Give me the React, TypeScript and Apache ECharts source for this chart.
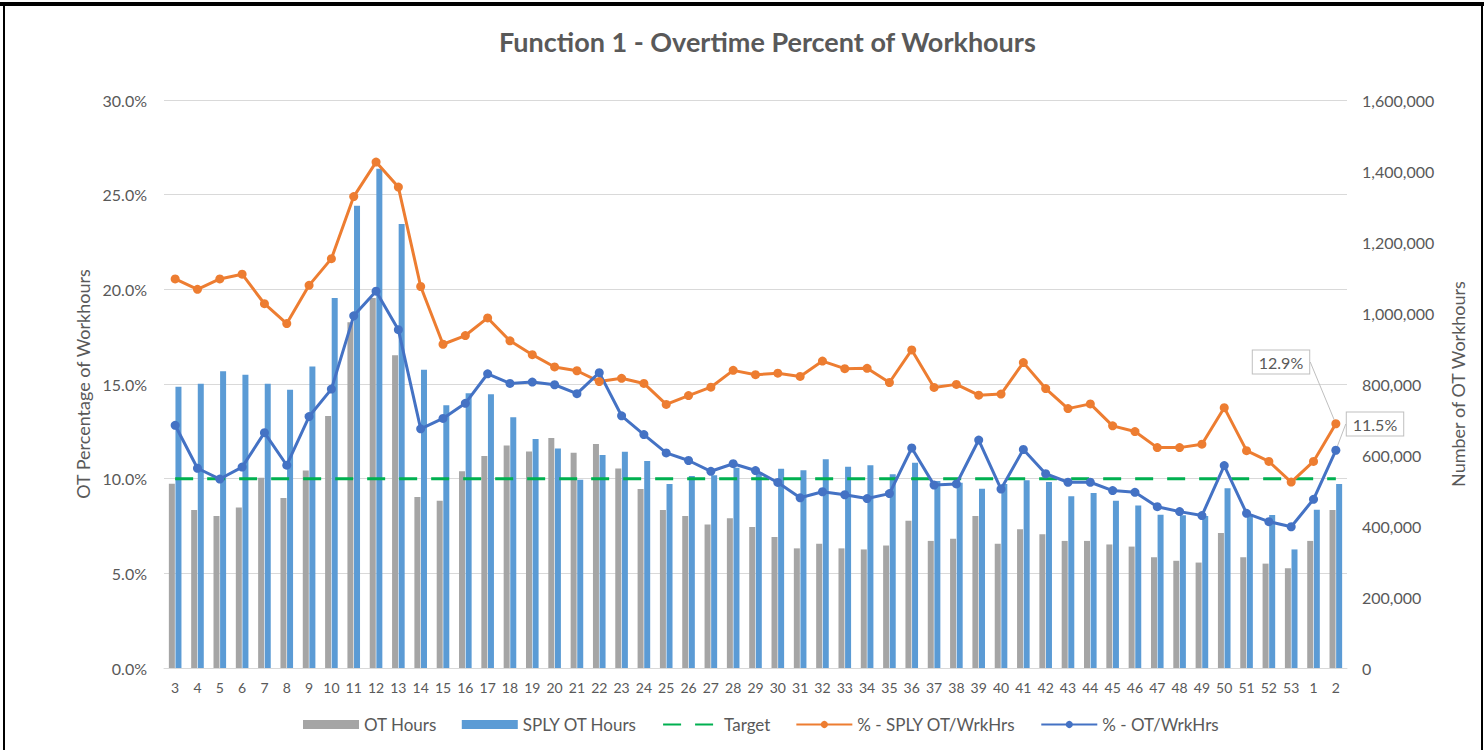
import React, { useEffect, useRef } from "react";
import * as echarts from "echarts";

const weeks = [
  "3", "4", "5", "6", "7", "8", "9", "10", "11", "12", "13", "14", "15", "16", "17", "18", "19", "20",
  "21", "22", "23", "24", "25", "26", "27", "28", "29", "30", "31", "32", "33", "34", "35", "36", "37",
  "38", "39", "40", "41", "42", "43", "44", "45", "46", "47", "48", "49", "50", "51", "52", "53", "1", "2",
];

const otHours = [
  519000, 445000, 428000, 452000, 536000, 479000, 556000, 710000, 974000, 1042000, 881000, 482000, 471000,
  554000, 597000, 627000, 610000, 648000, 606000, 631000, 562000, 504000, 445000, 428000, 404000, 422000,
  397000, 369000, 337000, 350000, 337000, 334000, 345000, 415000, 358000, 364000, 428000, 350000, 391000,
  377000, 358000, 358000, 348000, 342000, 312000, 302000, 297000, 380000, 312000, 294000, 281000, 358000,
  445000,
];

const splyOtHours = [
  792000, 801000, 836000, 826000, 801000, 784000, 849000, 1042000, 1302000, 1406000, 1251000, 840000, 740000,
  774000, 771000, 706000, 645000, 618000, 530000, 600000, 609000, 583000, 518000, 541000, 543000, 564000,
  548000, 561000, 557000, 588000, 567000, 571000, 546000, 578000, 527000, 522000, 505000, 518000, 529000,
  524000, 484000, 493000, 471000, 458000, 432000, 430000, 428000, 506000, 432000, 431000, 334000, 446000,
  518000,
];

const targetPct = [
  10, 10, 10, 10, 10, 10, 10, 10, 10, 10, 10, 10, 10, 10, 10, 10, 10, 10, 10, 10, 10, 10, 10, 10, 10, 10,
  10, 10, 10, 10, 10, 10, 10, 10, 10, 10, 10, 10, 10, 10, 10, 10, 10, 10, 10, 10, 10, 10, 10, 10, 10, 10, 10,
];

const splyPct = [
  20.55, 20.0, 20.55, 20.8, 19.24, 18.19, 20.21, 21.62, 24.9, 26.72, 25.4, 20.15, 17.1, 17.56, 18.49, 17.28,
  16.55, 15.9, 15.7, 15.13, 15.3, 15.03, 13.92, 14.39, 14.83, 15.72, 15.49, 15.57, 15.4, 16.21, 15.81, 15.83,
  15.08, 16.8, 14.82, 14.98, 14.41, 14.47, 16.13, 14.76, 13.7, 13.95, 12.79, 12.49, 11.64, 11.64, 11.82, 13.75,
  11.48, 10.91, 9.82, 10.91, 12.9,
];

const otPct = [
  12.82, 10.55, 9.98, 10.61, 12.43, 10.71, 13.28, 14.73, 18.6, 19.9, 17.87, 12.63, 13.18, 13.98, 15.54, 15.03,
  15.1, 14.96, 14.49, 15.6, 13.32, 12.33, 11.36, 10.96, 10.39, 10.79, 10.43, 9.8, 8.99, 9.31, 9.15, 8.95, 9.21,
  11.62, 9.66, 9.72, 12.04, 9.45, 11.54, 10.26, 9.81, 9.81, 9.37, 9.28, 8.52, 8.26, 8.05, 10.69, 8.17, 7.73,
  7.46, 8.91, 11.5,
];

const FONT = "Lato, 'Open Sans', sans-serif";
const TEXT = "#595959";

const calloutLabel = {
  show: true,
  formatter: (p: any) => `${p.value}%`,
  color: TEXT,
  fontSize: 16,
  fontFamily: FONT,
  backgroundColor: "#ffffff",
  borderColor: "#BFBFBF",
  borderWidth: 1,
  padding: [4, 6, 3, 6],
};

function withLastLabel(values: number[]) {
  return values.map((v, i) =>
    i === values.length - 1 ? { value: v, label: calloutLabel } : v
  );
}

export default function App() {
  const ref = useRef<HTMLDivElement>(null);

  useEffect(() => {
    if (!ref.current) return;
    const chart = echarts.init(ref.current, undefined, { renderer: "svg" });
    chart.setOption({
      animation: false,
      backgroundColor: "#ffffff",
      textStyle: { fontFamily: FONT },
      title: {
        text: "Function 1 - Overtime Percent of Workhours",
        left: 494,
        top: 23,
        textStyle: { color: TEXT, fontSize: 27, fontWeight: "bold", fontFamily: FONT },
      },
      graphic: [
        { type: "rect", shape: { x: 0, y: 2, width: 1484, height: 4 }, style: { fill: "#000" }, silent: true },
        { type: "rect", shape: { x: 3, y: 2, width: 2, height: 748 }, style: { fill: "#000" }, silent: true },
        { type: "rect", shape: { x: 1481, y: 2, width: 2, height: 748 }, style: { fill: "#000" }, silent: true },
      ],
      legend: {
        left: 298,
        top: 711,
        itemWidth: 56,
        itemHeight: 9,
        itemGap: 25,
        textStyle: { color: TEXT, fontSize: 17, fontFamily: FONT },
        data: [
          { name: "OT Hours", icon: "rect" },
          { name: "SPLY OT Hours", icon: "rect" },
          { name: "Target", itemStyle: { opacity: 0 } },
          { name: "% - SPLY OT/WrkHrs" },
          { name: "% - OT/WrkHrs" },
        ],
      },
      grid: { left: 164, right: 137, top: 100, bottom: 82, containLabel: false },
      xAxis: {
        type: "category",
        data: weeks,
        boundaryGap: true,
        axisLine: { lineStyle: { color: "#D9D9D9", width: 1 } },
        axisTick: { show: false },
        axisLabel: { color: TEXT, fontSize: 14, margin: 12, interval: 0, fontFamily: FONT },
      },
      yAxis: [
        {
          type: "value",
          min: 0,
          max: 30,
          interval: 5,
          name: "OT Percentage of Workhours",
          nameLocation: "middle",
          nameGap: 72,
          nameTextStyle: { color: TEXT, fontSize: 18, fontFamily: FONT },
          axisLine: { show: false },
          axisTick: { show: false },
          splitLine: { lineStyle: { color: "#D9D9D9", width: 1 } },
          axisLabel: {
            color: TEXT,
            fontSize: 16,
            margin: 17,
            fontFamily: FONT,
            formatter: (v: number) => `${v.toFixed(1)}%`,
          },
        },
        {
          type: "value",
          min: 0,
          max: 1600000,
          interval: 200000,
          name: "Number of OT Workhours",
          nameLocation: "middle",
          nameGap: 102,
          nameTextStyle: { color: TEXT, fontSize: 18, fontFamily: FONT },
          axisLine: { show: false },
          axisTick: { show: false },
          splitLine: { show: false },
          axisLabel: {
            color: TEXT,
            fontSize: 16,
            margin: 15,
            fontFamily: FONT,
            formatter: (v: number) => v.toLocaleString("en-US"),
          },
        },
      ],
      series: [
        {
          name: "OT Hours",
          type: "bar",
          yAxisIndex: 1,
          data: otHours,
          barWidth: 6,
          barGap: "10%",
          itemStyle: { color: "#A5A5A5" },
        },
        {
          name: "SPLY OT Hours",
          type: "bar",
          yAxisIndex: 1,
          data: splyOtHours,
          barWidth: 6,
          barGap: "10%",
          itemStyle: { color: "#5B9BD5" },
        },
        {
          name: "Target",
          type: "line",
          yAxisIndex: 0,
          data: targetPct,
          symbol: "none",
          lineStyle: { color: "#00B050", width: 3, type: [18, 14] },
          itemStyle: { color: "#00B050" },
        },
        {
          name: "% - SPLY OT/WrkHrs",
          type: "line",
          yAxisIndex: 0,
          data: withLastLabel(splyPct),
          symbol: "circle",
          symbolSize: 9,
          lineStyle: { color: "#ED7D31", width: 3 },
          itemStyle: { color: "#ED7D31" },
          label: { show: false },
          labelLayout: { x: 1281, y: 362, align: "center", verticalAlign: "middle" },
          labelLine: { show: true, lineStyle: { color: "#BFBFBF", width: 1 } },
        },
        {
          name: "% - OT/WrkHrs",
          type: "line",
          yAxisIndex: 0,
          data: withLastLabel(otPct),
          symbol: "circle",
          symbolSize: 9,
          lineStyle: { color: "#4472C4", width: 3 },
          itemStyle: { color: "#4472C4" },
          label: { show: false },
          labelLayout: { x: 1375, y: 424, align: "center", verticalAlign: "middle" },
          labelLine: { show: true, lineStyle: { color: "#BFBFBF", width: 1 } },
        },
      ],
    });
    return () => chart.dispose();
  }, []);

  return (
    <div
      ref={ref}
      style={{ position: "fixed", left: 0, top: 0, width: 1484, height: 750, background: "#fff" }}
    />
  );
}
